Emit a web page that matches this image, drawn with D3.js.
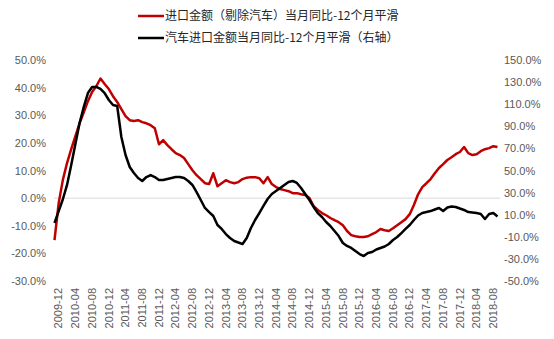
<!DOCTYPE html>
<html><head><meta charset="utf-8">
<script src="https://cdn.jsdelivr.net/npm/d3@7/dist/d3.min.js"></script>
<style>body{margin:0;background:#fff}svg{display:block}</style>
</head><body>
<script>
const months = [
"2009-12",
"2010-01","2010-02","2010-03","2010-04","2010-05","2010-06","2010-07","2010-08","2010-09","2010-10","2010-11","2010-12",
"2011-01","2011-02","2011-03","2011-04","2011-05","2011-06","2011-07","2011-08","2011-09","2011-10","2011-11","2011-12",
"2012-01","2012-02","2012-03","2012-04","2012-05","2012-06","2012-07","2012-08","2012-09","2012-10","2012-11","2012-12",
"2013-01","2013-02","2013-03","2013-04","2013-05","2013-06","2013-07","2013-08","2013-09","2013-10","2013-11","2013-12",
"2014-01","2014-02","2014-03","2014-04","2014-05","2014-06","2014-07","2014-08","2014-09","2014-10","2014-11","2014-12",
"2015-01","2015-02","2015-03","2015-04","2015-05","2015-06","2015-07","2015-08","2015-09","2015-10","2015-11","2015-12",
"2016-01","2016-02","2016-03","2016-04","2016-05","2016-06","2016-07","2016-08","2016-09","2016-10","2016-11","2016-12",
"2017-01","2017-02","2017-03","2017-04","2017-05","2017-06","2017-07","2017-08","2017-09","2017-10","2017-11","2017-12",
"2018-01","2018-02","2018-03","2018-04","2018-05","2018-06","2018-07","2018-08","2018-09","2018-10"];

// 进口金额（剔除汽车）当月同比-12个月平滑, % (left axis)
const importExAuto = [
-15.2,-1.8,6.6,12.7,17.7,22.4,27.1,31.1,35.1,38.4,40.5,43.3,41.3,
39.5,36.9,34.8,32.2,29.7,28.2,27.9,28.2,27.5,27.1,26.4,25.3,
19.5,21.0,19.2,17.7,16.3,15.6,14.5,12.3,10.1,8.3,6.9,5.4,
5.1,9.0,4.3,5.4,6.5,5.8,5.4,5.8,6.9,7.4,7.6,7.6,
7.2,5.4,7.6,5.1,4.0,3.3,2.9,2.5,1.8,1.8,1.4,1.1,
0.0,-2.9,-4.3,-5.4,-6.2,-7.2,-8.0,-8.7,-9.8,-11.9,-13.4,-13.8,
-14.1,-14.1,-13.8,-13.0,-12.3,-11.2,-11.6,-11.9,-10.9,-9.8,-8.7,-7.6,
-5.8,-2.5,1.4,4.0,5.4,6.9,9.0,10.9,12.3,13.8,14.8,15.9,
16.7,18.5,16.3,15.6,15.9,17.0,17.7,18.1,18.8,18.5];

// 汽车进口金额当月同比-12个月平滑（右轴）, % (right axis)
const autoImport = [
2.5,13.3,24.0,36.9,55.0,74.0,93.0,107.5,120.1,125.6,125.6,123.8,120.1,
113.8,109.3,108.4,80.3,64.0,53.2,47.7,43.2,40.5,44.1,45.9,44.1,
41.4,41.4,42.3,43.2,44.1,44.1,43.2,40.5,36.9,30.5,23.3,16.1,
12.4,8.8,0.7,-2.9,-7.5,-11.1,-13.8,-15.2,-16.5,-11.1,-2.0,5.2,
11.5,17.9,24.2,28.7,31.4,34.2,36.9,39.6,40.5,38.7,34.2,28.7,
23.3,17.0,11.5,7.9,3.4,-0.2,-4.8,-9.3,-15.6,-18.3,-20.1,-22.9,
-25.6,-27.4,-24.7,-23.8,-21.5,-20.1,-18.8,-16.5,-12.9,-10.2,-6.6,-2.9,
0.7,5.2,9.3,11.5,12.4,13.3,14.7,16.1,13.3,16.5,17.4,17.0,
15.6,14.3,12.4,12.0,11.5,10.6,6.1,10.6,11.5,8.4];

const leftTicks = [-30,-20,-10,0,10,20,30,40,50];
const rightTicks = [-50,-30,-10,10,30,50,70,90,110,130,150];
const seriesNames = ["进口金额（剔除汽车）当月同比-12个月平滑","汽车进口金额当月同比-12个月平滑（右轴）"];
const seriesColors = ["#C00000","#000000"];

const W = 554, H = 339;
const svg = d3.select("body").append("svg").attr("width", W).attr("height", H);
const font = "'Liberation Sans', Arial, sans-serif";

const x = d3.scalePoint().domain(months).range([54.5, 497.5]);
const yL = d3.scaleLinear().domain([-30, 50]).range([281, 60]);
const yR = d3.scaleLinear().domain([-50, 150]).range([281, 60]);

// zero line
svg.append("line").attr("x1", 54).attr("x2", 500)
  .attr("y1", yL(0)).attr("y2", yL(0))
  .attr("stroke", "#D9D9D9").attr("stroke-width", 1);

// left axis
const gL = svg.append("g").attr("transform", "translate(46,0)")
  .call(d3.axisLeft(yL).tickValues(leftTicks).tickSize(0).tickPadding(0).tickFormat(d => d.toFixed(1) + "%"));
gL.select(".domain").remove();
gL.selectAll("text").attr("fill", "#595959").style("font-family", font).style("font-size", "11px");

// right axis
const gR = svg.append("g").attr("transform", "translate(504,0)")
  .call(d3.axisRight(yR).tickValues(rightTicks).tickSize(0).tickPadding(0).tickFormat(d => d.toFixed(1) + "%"));
gR.select(".domain").remove();
gR.selectAll("text").attr("fill", "#595959").style("font-family", font).style("font-size", "11px");

// x axis labels
const xTicks = months.filter((d, i) => i % 4 === 0);
const gX = svg.append("g").attr("transform", "translate(3.5,288)")
  .call(d3.axisBottom(x).tickValues(xTicks).tickSize(0).tickPadding(0));
gX.select(".domain").remove();
gX.selectAll("text")
  .attr("fill", "#595959").style("font-family", font).style("font-size", "11px")
  .attr("transform", "rotate(-90)").attr("text-anchor", "end")
  .attr("x", 0).attr("y", 0).attr("dy", "0.35em");

// lines
const lineL = d3.line().x((d, i) => x(months[i])).y(d => yL(d));
const lineR = d3.line().x((d, i) => x(months[i])).y(d => yR(d));
svg.append("path").datum(importExAuto).attr("d", lineL)
  .attr("fill", "none").attr("stroke", seriesColors[0]).attr("stroke-width", 2.5).attr("stroke-linejoin", "round");
svg.append("path").datum(autoImport).attr("d", lineR)
  .attr("fill", "none").attr("stroke", seriesColors[1]).attr("stroke-width", 2.5).attr("stroke-linejoin", "round");

// legend
const leg = svg.append("g");
seriesNames.forEach((n, i) => {
  const yy = 16 + i * 22;
  leg.append("line").attr("x1", 138).attr("x2", 164).attr("y1", yy).attr("y2", yy)
    .attr("stroke", seriesColors[i]).attr("stroke-width", 2.5);
  leg.append("text").attr("x", 165).attr("y", yy).attr("dy", "0.36em")
    .attr("fill", "#262626").style("font-family", "'Noto Sans CJK SC', sans-serif").style("font-size", "12px")
    .text(n);
});
</script>
</body></html>
